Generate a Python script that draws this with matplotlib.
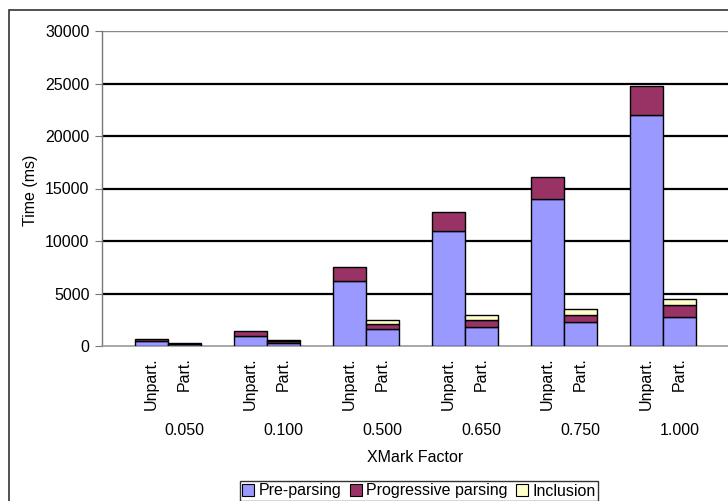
import matplotlib
matplotlib.use("Agg")
import matplotlib.pyplot as plt
from matplotlib.patches import Rectangle, Patch
import numpy as np

plt.rcParams['font.family'] = ['Liberation Sans', 'DejaVu Sans']

factors = ["0.050", "0.100", "0.500", "0.650", "0.750", "1.000"]
variants = ["Unpart.", "Part."]

# Times in ms, one value per factor
unpart_pre = [480, 980, 6200, 11000, 14000, 22000]
unpart_prog = [160, 480, 1300, 1800, 2100, 2800]
unpart_incl = [0, 0, 0, 0, 0, 0]

part_pre = [150, 260, 1590, 1780, 2250, 2730]
part_prog = [70, 180, 530, 700, 730, 1140]
part_incl = [40, 100, 330, 470, 510, 610]

series_names = ["Pre-parsing", "Progressive parsing", "Inclusion"]
series_colors = ["#9999FF", "#993366", "#FFFFCC"]

yticks = [0, 5000, 10000, 15000, 20000, 25000, 30000]

FS = 11.5
W, H = 728, 501
fig = plt.figure(figsize=(W / 100, H / 100), dpi=100)

# outer chart frame
fig.add_artist(Rectangle((9 / W, -0.01), 1.0, 1 - 10 / H + 0.01,
                         transform=fig.transFigure, fill=False,
                         edgecolor="#333333", linewidth=1.2))

left, right, top, bottom = 102, 729, 31, 346
ax = fig.add_axes([left / W, 1 - bottom / H, (right - left) / W, (bottom - top) / H])

n_slots = 3 * len(factors) + 1
ax.set_xlim(0, n_slots)
ax.set_ylim(0, 30000)

for y in yticks[1:-1]:
    ax.axhline(y, color="black", linewidth=1.6, zorder=1)

unpart_x = np.arange(len(factors)) * 3 + 1.5
part_x = np.arange(len(factors)) * 3 + 2.5

for xs, stacks in ((unpart_x, (unpart_pre, unpart_prog, unpart_incl)),
                   (part_x, (part_pre, part_prog, part_incl))):
    base = np.zeros(len(factors))
    for vals, col in zip(stacks, series_colors):
        vals = np.array(vals, dtype=float)
        mask = vals > 0
        ax.bar(xs[mask], vals[mask], width=1.0, bottom=base[mask], color=col,
               edgecolor="black", linewidth=1.0, zorder=3)
        base += vals

for s in ("top", "right"):
    ax.spines[s].set_visible(False)
ax.axhline(30000, color="#888888", linewidth=1.0, zorder=2)
ax.spines["left"].set_color("#777777")
ax.spines["bottom"].set_color("#999999")
ax.spines["left"].set_linewidth(1.0)
ax.spines["bottom"].set_linewidth(1.2)

ax.set_yticks(yticks)
ax.set_yticklabels([str(v) for v in yticks], fontsize=FS)
ax.tick_params(axis="y", length=5, color="#777777", pad=4)
ax.set_xticks([])

# bar labels under the axis
for i in range(len(factors)):
    for x, lab in ((unpart_x[i], variants[0]), (part_x[i], variants[1])):
        ax.text(x, -0.035, lab, transform=ax.get_xaxis_transform(), rotation=90,
                ha="center", va="top", fontsize=FS)
    ax.text(part_x[i], -0.267, factors[i], transform=ax.get_xaxis_transform(),
            ha="center", va="center", fontsize=FS)

ax.text(0.5, -0.355, "XMark Factor", transform=ax.transAxes,
        ha="center", va="center", fontsize=FS)
fig.text(31 / W, 1 - 190 / H, "Time (ms)", rotation=90, ha="center", va="center",
         fontsize=FS)

handles = [Patch(facecolor=c, edgecolor="black", linewidth=0.8) for c in series_colors]
leg = fig.legend(handles, series_names, loc="center", bbox_to_anchor=(419 / W, 1 - 491 / H),
                 ncol=3, frameon=True, fontsize=FS, handlelength=0.75, handleheight=0.75,
                 handletextpad=0.3, columnspacing=0.5, borderpad=0.15, fancybox=False,
                 borderaxespad=0)
leg.get_frame().set_edgecolor("black")
leg.get_frame().set_linewidth(1.0)

fig.savefig("out.png", dpi=100)
